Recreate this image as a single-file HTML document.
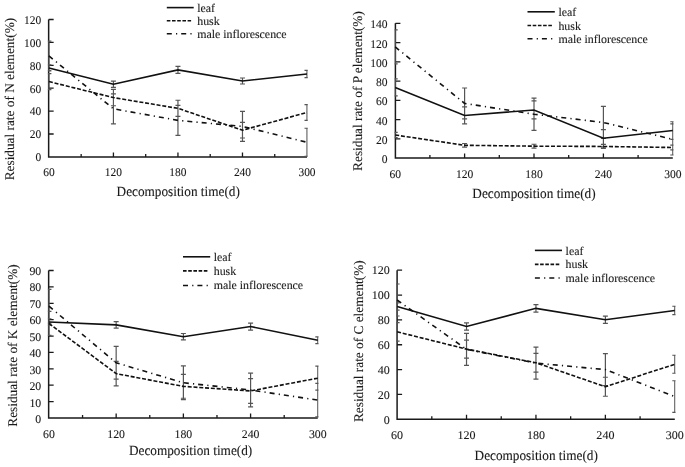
<!DOCTYPE html>
<html><head><meta charset="utf-8"><title>Residual rate charts</title>
<style>
html,body{margin:0;padding:0;background:#fff;width:685px;height:467px;overflow:hidden}
svg{display:block}
#w{width:685px;height:467px;will-change:transform}
text{font-family:"Liberation Serif", serif;fill:#1a1a1a;stroke:#1a1a1a;stroke-width:0.1px;text-rendering:geometricPrecision}
.tl{font-size:11.8px}
.tt{font-size:13.3px}
.xt{font-size:14.1px}
.lg{font-size:11.9px}
</style></head><body><div id="w">
<svg width="685" height="467" viewBox="0 0 685 467">
<rect width="685" height="467" fill="#fff"/>
<g><path d="M48.65 19.5V156.9H307" fill="none" stroke="#1a1a1a" stroke-width="1.5"/><path d="M48.65 134h5M48.65 111.1h5M48.65 88.2h5M48.65 65.3h5M48.65 42.4h5M48.65 19.5h5M81.16 156.9v-3M145.69 156.9v-3M210.21 156.9v-3M274.74 156.9v-3M113.43 156.9v-4.5M177.95 156.9v-4.5M242.48 156.9v-4.5" stroke="#1a1a1a" stroke-width="1.3"/><text transform="translate(41.2 161.2) scale(0.97 1)" text-anchor="end" class="tl">0</text><text transform="translate(41.2 138.3) scale(0.97 1)" text-anchor="end" class="tl">20</text><text transform="translate(41.2 115.4) scale(0.97 1)" text-anchor="end" class="tl">40</text><text transform="translate(41.2 92.5) scale(0.97 1)" text-anchor="end" class="tl">60</text><text transform="translate(41.2 69.6) scale(0.97 1)" text-anchor="end" class="tl">80</text><text transform="translate(41.2 46.7) scale(0.97 1)" text-anchor="end" class="tl">100</text><text transform="translate(41.2 23.8) scale(0.97 1)" text-anchor="end" class="tl">120</text><text transform="translate(48.9 175.8) scale(0.97 1)" text-anchor="middle" class="tl">60</text><text transform="translate(113.43 175.8) scale(0.97 1)" text-anchor="middle" class="tl">120</text><text transform="translate(177.95 175.8) scale(0.97 1)" text-anchor="middle" class="tl">180</text><text transform="translate(242.48 175.8) scale(0.97 1)" text-anchor="middle" class="tl">240</text><text transform="translate(307 175.8) scale(0.97 1)" text-anchor="middle" class="tl">300</text><text transform="translate(14.4 99.1) rotate(-90)" text-anchor="middle" class="tt">Residual rate of N element(%)</text><text transform="translate(178.2 196.35) scale(0.94 1)" text-anchor="middle" class="xt">Decomposition time(d)</text><clipPath id="c0"><rect x="47.9" y="0" width="259.85" height="467"/></clipPath><path d="M48.9 64.93V70.93M46.4 64.93h5M46.4 70.93h5M113.43 81.09V87.29M110.93 81.09h5M110.93 87.29h5M177.95 66.38V73.38M175.45 66.38h5M175.45 73.38h5M242.48 77.99V83.99M239.98 77.99h5M239.98 83.99h5M307 70.4V77.6M304.5 70.4h5M304.5 77.6h5M48.9 73.56V89.56M46.4 73.56h5M46.4 89.56h5M113.43 89.44V105.74M110.93 89.44h5M110.93 105.74h5M177.95 100.25V116.45M175.45 100.25h5M175.45 116.45h5M242.48 122.42V138.02M239.98 122.42h5M239.98 138.02h5M307 104.57V120.37M304.5 104.57h5M304.5 120.37h5M48.9 41.21V70.61M46.4 41.21h5M46.4 70.61h5M113.43 93.81V123.81M110.93 93.81h5M110.93 123.81h5M177.95 105.37V135.37M175.45 105.37h5M175.45 135.37h5M242.48 111.44V141.44M239.98 111.44h5M239.98 141.44h5M307 128.24V156.24M304.5 128.24h5M304.5 156.24h5" fill="none" stroke="#555" stroke-width="1.2" clip-path="url(#c0)"/><polyline points="48.9,67.93 113.43,84.19 177.95,69.88 242.48,80.99 307,74" fill="none" stroke="#111" stroke-width="1.6"/><polyline points="48.9,81.56 113.43,97.59 177.95,108.35 242.48,130.22 307,112.47" fill="none" stroke="#111" stroke-width="1.6" stroke-dasharray="4 1.8"/><polyline points="48.9,55.91 113.43,108.81 177.95,120.37 242.48,126.44 307,142.24" fill="none" stroke="#111" stroke-width="1.6" stroke-dasharray="5 4.2 1.2 4"/><path d="M166.8 7.6H193.7" stroke="#111" stroke-width="1.6"/><path d="M166.8 20.8H191.1" stroke="#111" stroke-width="1.6" stroke-dasharray="3.6 1.6"/><path d="M166.8 33.7H193.7" stroke="#111" stroke-width="1.6" stroke-dasharray="5 4.2 1.2 4"/><text x="197.2" y="11.6" class="lg">leaf</text><text x="197.2" y="24.6" class="lg">husk</text><text x="197.2" y="37.6" class="lg">male inflorescence</text></g>
<g><path d="M395.4 23.3V158.1H672.8" fill="none" stroke="#1a1a1a" stroke-width="1.5"/><path d="M395.4 138.84h5M395.4 119.59h5M395.4 100.33h5M395.4 81.07h5M395.4 61.81h5M395.4 42.56h5M395.4 23.3h5M429.9 158.1v-3M499.3 158.1v-3M568.7 158.1v-3M638.1 158.1v-3M464.6 158.1v-4.5M534 158.1v-4.5M603.4 158.1v-4.5" stroke="#1a1a1a" stroke-width="1.3"/><text transform="translate(387.6 163.2) scale(0.98 1)" text-anchor="end" class="tl">0</text><text transform="translate(387.6 143.94) scale(0.98 1)" text-anchor="end" class="tl">20</text><text transform="translate(387.6 124.69) scale(0.98 1)" text-anchor="end" class="tl">40</text><text transform="translate(387.6 105.43) scale(0.98 1)" text-anchor="end" class="tl">60</text><text transform="translate(387.6 86.17) scale(0.98 1)" text-anchor="end" class="tl">80</text><text transform="translate(387.6 66.91) scale(0.98 1)" text-anchor="end" class="tl">100</text><text transform="translate(387.6 47.66) scale(0.98 1)" text-anchor="end" class="tl">120</text><text transform="translate(387.6 28.4) scale(0.98 1)" text-anchor="end" class="tl">140</text><text transform="translate(395.2 177.8) scale(0.98 1)" text-anchor="middle" class="tl">60</text><text transform="translate(464.6 177.8) scale(0.98 1)" text-anchor="middle" class="tl">120</text><text transform="translate(534 177.8) scale(0.98 1)" text-anchor="middle" class="tl">180</text><text transform="translate(603.4 177.8) scale(0.98 1)" text-anchor="middle" class="tl">240</text><text transform="translate(672.8 177.8) scale(0.98 1)" text-anchor="middle" class="tl">300</text><text transform="translate(362.2 91) rotate(-90)" text-anchor="middle" class="tt">Residual rate of P element(%)</text><text transform="translate(534 197.75) scale(0.94 1)" text-anchor="middle" class="xt">Decomposition time(d)</text><clipPath id="c1"><rect x="394.65" y="0" width="278.9" height="467"/></clipPath><path d="M395.2 78.93V95.93M392.7 78.93h5M392.7 95.93h5M464.6 106.95V123.95M462.1 106.95h5M462.1 123.95h5M534 100.96V118.96M531.5 100.96h5M531.5 118.96h5M603.4 129.57V146.97M600.9 129.57h5M600.9 146.97h5M672.8 121.76V139.36M670.3 121.76h5M670.3 139.36h5M395.2 132.39V137.59M392.7 132.39h5M392.7 137.59h5M464.6 143.49V147.09M462.1 143.49h5M462.1 147.09h5M534 144.26V148.06M531.5 144.26h5M531.5 148.06h5M603.4 144.45V148.45M600.9 144.45h5M600.9 148.45h5M672.8 145.21V149.81M670.3 145.21h5M670.3 149.81h5M395.2 29.89V63.89M392.7 29.89h5M392.7 63.89h5M464.6 88.01V118.81M462.1 88.01h5M462.1 118.81h5M534 98.09V130.29M531.5 98.09h5M531.5 130.29h5M603.4 106.47V138.47M600.9 106.47h5M600.9 138.47h5M672.8 123.82V155.02M670.3 123.82h5M670.3 155.02h5" fill="none" stroke="#555" stroke-width="1.2" clip-path="url(#c1)"/><polyline points="395.2,87.43 464.6,115.45 534,109.96 603.4,138.27 672.8,130.56" fill="none" stroke="#111" stroke-width="1.6"/><polyline points="395.2,134.99 464.6,145.29 534,146.16 603.4,146.45 672.8,147.51" fill="none" stroke="#111" stroke-width="1.6" stroke-dasharray="4 1.8"/><polyline points="395.2,46.89 464.6,103.41 534,114.19 603.4,122.47 672.8,139.42" fill="none" stroke="#111" stroke-width="1.6" stroke-dasharray="5 4.2 1.2 4"/><path d="M527.5 11.8H554.8" stroke="#111" stroke-width="1.6"/><path d="M527.5 25.5H552.2" stroke="#111" stroke-width="1.6" stroke-dasharray="3.6 1.6"/><path d="M527.5 38.8H554.8" stroke="#111" stroke-width="1.6" stroke-dasharray="5 4.2 1.2 4"/><text x="558.4" y="15.9" class="lg">leaf</text><text x="558.4" y="29.8" class="lg">husk</text><text x="558.4" y="42.7" class="lg">male inflorescence</text></g>
<g><path d="M48.65 270.5V418H317.8" fill="none" stroke="#1a1a1a" stroke-width="1.5"/><path d="M48.65 401.61h5M48.65 385.22h5M48.65 368.83h5M48.65 352.44h5M48.65 336.06h5M48.65 319.67h5M48.65 303.28h5M48.65 286.89h5M48.65 270.5h5M82.56 418v-3M149.77 418v-3M216.98 418v-3M284.19 418v-3M116.16 418v-4.5M183.38 418v-4.5M250.59 418v-4.5" stroke="#1a1a1a" stroke-width="1.3"/><text transform="translate(41.2 423.1) scale(1.0 1)" text-anchor="end" class="tl">0</text><text transform="translate(41.2 406.6) scale(1.0 1)" text-anchor="end" class="tl">10</text><text transform="translate(41.2 390.1) scale(1.0 1)" text-anchor="end" class="tl">20</text><text transform="translate(41.2 373.6) scale(1.0 1)" text-anchor="end" class="tl">30</text><text transform="translate(41.2 357.1) scale(1.0 1)" text-anchor="end" class="tl">40</text><text transform="translate(41.2 340.6) scale(1.0 1)" text-anchor="end" class="tl">50</text><text transform="translate(41.2 324.1) scale(1.0 1)" text-anchor="end" class="tl">60</text><text transform="translate(41.2 307.6) scale(1.0 1)" text-anchor="end" class="tl">70</text><text transform="translate(41.2 291.1) scale(1.0 1)" text-anchor="end" class="tl">80</text><text transform="translate(41.2 274.6) scale(1.0 1)" text-anchor="end" class="tl">90</text><text transform="translate(48.95 438.2) scale(1.0 1)" text-anchor="middle" class="tl">60</text><text transform="translate(116.16 438.2) scale(1.0 1)" text-anchor="middle" class="tl">120</text><text transform="translate(183.38 438.2) scale(1.0 1)" text-anchor="middle" class="tl">180</text><text transform="translate(250.59 438.2) scale(1.0 1)" text-anchor="middle" class="tl">240</text><text transform="translate(317.8 438.2) scale(1.0 1)" text-anchor="middle" class="tl">300</text><text transform="translate(16.6 345.5) rotate(-90)" text-anchor="middle" class="tt">Residual rate of K element(%)</text><text transform="translate(190.6 455.15) scale(0.94 1)" text-anchor="middle" class="xt">Decomposition time(d)</text><clipPath id="c2"><rect x="47.9" y="0" width="270.65" height="467"/></clipPath><path d="M48.95 318.76V325.16M46.45 318.76h5M46.45 325.16h5M116.16 321.71V328.11M113.66 321.71h5M113.66 328.11h5M183.38 333.51V339.91M180.88 333.51h5M180.88 339.91h5M250.59 323.05V330.05M248.09 323.05h5M248.09 330.05h5M317.8 336.92V343.72M315.3 336.92h5M315.3 343.72h5M48.95 311.44V335.44M46.45 311.44h5M46.45 335.44h5M116.16 361.39V385.79M113.66 361.39h5M113.66 385.79h5M183.38 374.47V398.27M180.88 374.47h5M180.88 398.27h5M250.59 378.56V403.36M248.09 378.56h5M248.09 403.36h5M317.8 366.18V390.18M315.3 366.18h5M315.3 390.18h5M48.95 289.43V323.03M46.45 289.43h5M46.45 323.03h5M116.16 346.47V379.07M113.66 346.47h5M113.66 379.07h5M183.38 365.96V399.56M180.88 365.96h5M180.88 399.56h5M250.59 373.08V406.88M248.09 373.08h5M248.09 406.88h5M317.8 383.34V416.94M315.3 383.34h5M315.3 416.94h5" fill="none" stroke="#555" stroke-width="1.2" clip-path="url(#c2)"/><polyline points="48.95,321.96 116.16,324.91 183.38,336.71 250.59,326.55 317.8,340.32" fill="none" stroke="#111" stroke-width="1.6"/><polyline points="48.95,323.44 116.16,373.59 183.38,386.37 250.59,390.96 317.8,378.18" fill="none" stroke="#111" stroke-width="1.6" stroke-dasharray="4 1.8"/><polyline points="48.95,306.23 116.16,362.77 183.38,382.76 250.59,389.98 317.8,400.14" fill="none" stroke="#111" stroke-width="1.6" stroke-dasharray="5 4.2 1.2 4"/><path d="M183 256.8H210.2" stroke="#111" stroke-width="1.6"/><path d="M183 270.9H207.6" stroke="#111" stroke-width="1.6" stroke-dasharray="3.6 1.6"/><path d="M183 285.5H210.2" stroke="#111" stroke-width="1.6" stroke-dasharray="5 4.2 1.2 4"/><text x="213.7" y="261.1" class="lg">leaf</text><text x="213.7" y="274.8" class="lg">husk</text><text x="213.7" y="289.2" class="lg">male inflorescence</text></g>
<g><path d="M397.1 270.2V419.3H674.8" fill="none" stroke="#1a1a1a" stroke-width="1.5"/><path d="M397.1 394.45h5M397.1 369.6h5M397.1 344.75h5M397.1 319.9h5M397.1 295.05h5M397.1 270.2h5M431.81 419.3v-3M501.24 419.3v-3M570.66 419.3v-3M640.09 419.3v-3M466.52 419.3v-4.5M535.95 419.3v-4.5M605.38 419.3v-4.5" stroke="#1a1a1a" stroke-width="1.3"/><text transform="translate(389.7 424.4) scale(1.02 1)" text-anchor="end" class="tl">0</text><text transform="translate(389.7 399.37) scale(1.02 1)" text-anchor="end" class="tl">20</text><text transform="translate(389.7 374.33) scale(1.02 1)" text-anchor="end" class="tl">40</text><text transform="translate(389.7 349.3) scale(1.02 1)" text-anchor="end" class="tl">60</text><text transform="translate(389.7 324.27) scale(1.02 1)" text-anchor="end" class="tl">80</text><text transform="translate(389.7 299.23) scale(1.02 1)" text-anchor="end" class="tl">100</text><text transform="translate(389.7 274.2) scale(1.02 1)" text-anchor="end" class="tl">120</text><text transform="translate(397.1 439) scale(1.02 1)" text-anchor="middle" class="tl">60</text><text transform="translate(466.52 439) scale(1.02 1)" text-anchor="middle" class="tl">120</text><text transform="translate(535.95 439) scale(1.02 1)" text-anchor="middle" class="tl">180</text><text transform="translate(605.38 439) scale(1.02 1)" text-anchor="middle" class="tl">240</text><text transform="translate(674.8 439) scale(1.02 1)" text-anchor="middle" class="tl">300</text><text transform="translate(363.2 341.2) rotate(-90)" text-anchor="middle" class="tt">Residual rate of C element(%)</text><text transform="translate(536.2 460.25) scale(0.94 1)" text-anchor="middle" class="xt">Decomposition time(d)</text><clipPath id="c3"><rect x="396.35" y="0" width="279.2" height="467"/></clipPath><path d="M397.1 302.78V310.18M394.6 302.78h5M394.6 310.18h5M466.52 322.79V330.19M464.02 322.79h5M464.02 330.19h5M535.95 304.64V312.04M533.45 304.64h5M533.45 312.04h5M605.38 316.18V323.38M602.88 316.18h5M602.88 323.38h5M674.8 306.26V314.66M672.3 306.26h5M672.3 314.66h5M397.1 322.63V341.03M394.6 322.63h5M394.6 341.03h5M466.52 340.1V358.1M464.02 340.1h5M464.02 358.1h5M535.95 353.37V372.17M533.45 353.37h5M533.45 372.17h5M605.38 377.25V396.25M602.88 377.25h5M602.88 396.25h5M674.8 355.26V373.26M672.3 355.26h5M672.3 373.26h5M397.1 284.02V316.02M394.6 284.02h5M394.6 316.02h5M466.52 333.35V365.35M464.02 333.35h5M464.02 365.35h5M535.95 347.14V379.14M533.45 347.14h5M533.45 379.14h5M605.38 353.6V385.6M602.88 353.6h5M602.88 385.6h5M674.8 380.76V412.36M672.3 380.76h5M672.3 412.36h5" fill="none" stroke="#555" stroke-width="1.2" clip-path="url(#c3)"/><polyline points="397.1,306.48 466.52,326.49 535.95,308.34 605.38,319.78 674.8,310.46" fill="none" stroke="#111" stroke-width="1.6"/><polyline points="397.1,331.83 466.52,349.1 535.95,362.77 605.38,386.75 674.8,364.26" fill="none" stroke="#111" stroke-width="1.6" stroke-dasharray="4 1.8"/><polyline points="397.1,300.02 466.52,349.35 535.95,363.14 605.38,369.6 674.8,396.56" fill="none" stroke="#111" stroke-width="1.6" stroke-dasharray="5 4.2 1.2 4"/><path d="M534.9 250.4H562" stroke="#111" stroke-width="1.6"/><path d="M534.9 264.4H559.4" stroke="#111" stroke-width="1.6" stroke-dasharray="3.6 1.6"/><path d="M534.9 278H562" stroke="#111" stroke-width="1.6" stroke-dasharray="5 4.2 1.2 4"/><text x="565.6" y="254.5" class="lg">leaf</text><text x="565.6" y="268.1" class="lg">husk</text><text x="565.6" y="281.8" class="lg">male inflorescence</text></g>
</svg></div>
</body></html>
